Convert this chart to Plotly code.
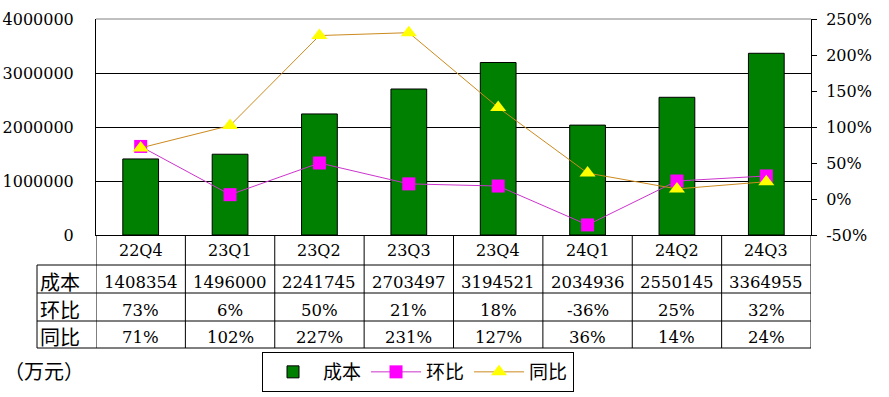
import plotly.graph_objects as go

# ---- data ----
quarters = ["22Q4", "23Q1", "23Q2", "23Q3", "23Q4", "24Q1", "24Q2", "24Q3"]
cost = [1408354, 1496000, 2241745, 2703497, 3194521, 2034936, 2550145, 3364955]
qoq_pct = [73, 6, 50, 21, 18, -36, 25, 32]
yoy_pct = [71, 102, 227, 231, 127, 36, 14, 24]
left_ticks = [0, 1000000, 2000000, 3000000, 4000000]
right_ticks_pct = [-50, 0, 50, 100, 150, 200, 250]
row_labels = ["成本", "环比", "同比"]
unit_label = "（万元）"

# ---- layout constants (pixels) ----
W, H = 889, 397
L, R, T, B = 96, 811, 19, 235
pw, ph = R - L, B - T


def py(y):  # pixel y -> paper y
    return (B - y) / ph


def px(x):  # pixel x -> paper x
    return (x - L) / pw


SERIF = "DejaVu Serif"
CJK = "Noto Sans CJK SC"

fig = go.Figure()
fig.add_trace(go.Bar(
    x=quarters, y=cost, name="成本", width=0.4,
    marker=dict(color="#008000", line=dict(color="#000000", width=1)),
    yaxis="y",
))
fig.add_trace(go.Scatter(
    x=quarters, y=[v / 100 for v in qoq_pct], name="环比", mode="lines+markers",
    line=dict(color="#CC33CC", width=1),
    marker=dict(symbol="square", size=13, color="#FF00FF", line=dict(width=0)),
    yaxis="y2",
))
fig.add_trace(go.Scatter(
    x=quarters, y=[v / 100 for v in yoy_pct], name="同比", mode="lines+markers",
    line=dict(color="#CC8A1E", width=1),
    marker=dict(symbol="triangle-up", size=14, color="#FFFF00", line=dict(width=0)),
    yaxis="y2",
))

shapes = []
# top gray border
shapes.append(dict(type="line", xref="paper", yref="paper", x0=0, x1=1, y0=1, y1=1,
                   line=dict(color="#808080", width=1), layer="above"))
# category / table vertical lines
for i in range(len(quarters) + 1):
    shapes.append(dict(type="line", xref="x", yref="paper", x0=i - 0.5, x1=i - 0.5,
                       y0=0, y1=py(348), line=dict(color="#000000", width=1)))
# table horizontal lines
for yy in [265, 293, 321, 348]:
    shapes.append(dict(type="line", xref="paper", yref="paper", x0=px(37), x1=1,
                       y0=py(yy), y1=py(yy), line=dict(color="#000000", width=1)))
# table left border
shapes.append(dict(type="line", xref="paper", yref="paper", x0=px(37), x1=px(37),
                   y0=py(265), y1=py(348), line=dict(color="#000000", width=1)))

ann = []
row_centers = [282, 310, 337]
rows = [
    [str(v) for v in cost],
    [f"{v}%" for v in qoq_pct],
    [f"{v}%" for v in yoy_pct],
]
for r, (lab, vals, yc) in enumerate(zip(row_labels, rows, row_centers)):
    ann.append(dict(xref="paper", yref="paper", x=px(38), y=py(yc - 1), text=lab,
                    showarrow=False, xanchor="left", yanchor="middle",
                    font=dict(family=CJK, size=20, color="#000000")))
    for i, t in enumerate(vals):
        ann.append(dict(xref="x", yref="paper", x=quarters[i], y=py(yc), text=t,
                        showarrow=False, xanchor="center", yanchor="middle",
                        font=dict(family=SERIF, size=16.5, color="#000000")))
# category labels
for q in quarters:
    ann.append(dict(xref="x", yref="paper", x=q, y=py(251), text=q,
                    showarrow=False, xanchor="center", yanchor="middle",
                    font=dict(family=SERIF, size=16, color="#000000")))
ann.append(dict(xref="paper", yref="paper", x=px(44), y=py(370), text=unit_label,
                showarrow=False, xanchor="center", yanchor="middle",
                font=dict(family=CJK, size=20, color="#000000")))

fig.update_layout(
    width=W, height=H,
    margin=dict(l=L, r=W - R, t=T, b=H - B, pad=0, autoexpand=False),
    paper_bgcolor="#FFFFFF", plot_bgcolor="#FFFFFF",
    showlegend=True,
    legend=dict(orientation="h", x=px(418), xanchor="center", y=py(352), yanchor="top",
                bordercolor="#000000", borderwidth=1, bgcolor="#FFFFFF",
                font=dict(family=CJK, size=19, color="#000000"),
                itemwidth=50, tracegroupgap=0, traceorder="normal"),
    xaxis=dict(range=[-0.5, len(quarters) - 0.5], showticklabels=False, ticks="",
               showgrid=False, showline=True, linecolor="#000000", linewidth=1,
               zeroline=False, fixedrange=True, automargin=False),
    yaxis=dict(range=[0, 4000000], tickvals=left_ticks, ticktext=[str(v) for v in left_ticks],
               showgrid=True, gridcolor="#000000", gridwidth=1, zeroline=False,
               showline=True, linecolor="#000000", linewidth=1, ticks="",
               ticklabelstandoff=18, automargin=False,
               tickfont=dict(family=SERIF, size=16, color="#000000")),
    yaxis2=dict(range=[-0.5, 2.5], overlaying="y", side="right",
                tickvals=[v / 100 for v in right_ticks_pct],
                ticktext=[f"{v}%" for v in right_ticks_pct],
                showgrid=False, zeroline=False, showline=True, linecolor="#000000",
                linewidth=1, ticks="outside", ticklen=5, tickcolor="#000000",
                ticklabelstandoff=6, automargin=False,
                tickfont=dict(family=SERIF, size=16, color="#000000")),
    shapes=shapes,
    annotations=ann,
    bargap=0.6,
)

fig.write_html("out.html", config={"displayModeBar": False},
               post_script="document.body.style.margin='0';document.body.style.padding='0';")
